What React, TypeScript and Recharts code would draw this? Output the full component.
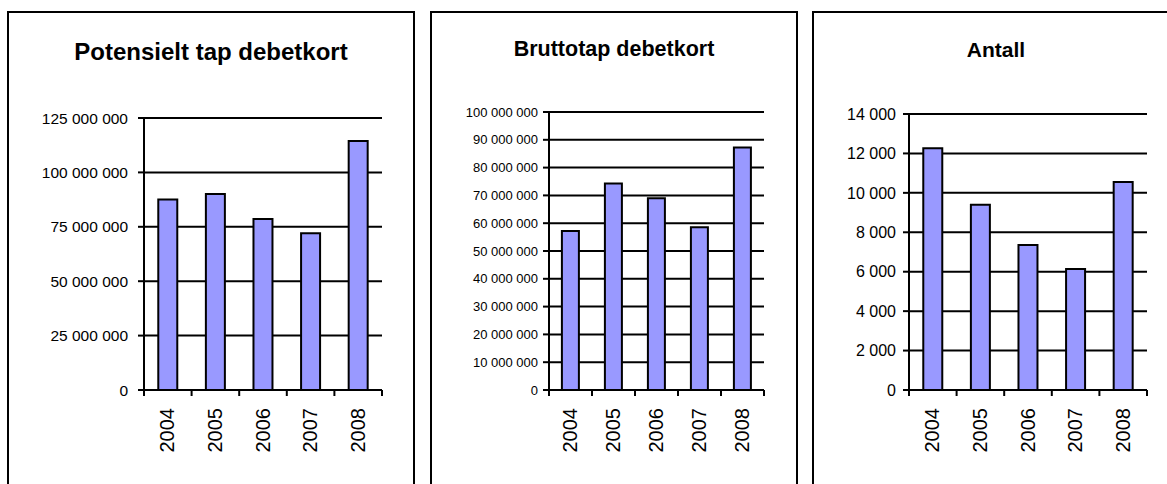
import React from "react";
import { BarChart, Bar, XAxis, YAxis, CartesianGrid } from "recharts";

const years = ["2004", "2005", "2006", "2007", "2008"];
const potensieltTap = [87600000, 90100000, 78600000, 72000000, 114400000];
const bruttotap = [57200000, 74300000, 69000000, 58500000, 87200000];
const antall = [12260, 9400, 7350, 6140, 10550];

const potensieltTicks = [0, 25000000, 50000000, 75000000, 100000000, 125000000];
const bruttoTicks = [0, 10000000, 20000000, 30000000, 40000000, 50000000, 60000000, 70000000, 80000000, 90000000, 100000000];
const antallTicks = [0, 2000, 4000, 6000, 8000, 10000, 12000, 14000];

const FONT = '"Liberation Sans", Arial, Helvetica, sans-serif';

const fmt = (v: number) => String(v).replace(/\B(?=(\d{3})+(?!\d))/g, " ");

// x ticks sit on the category edges, labels rotated in the middle
const YearTick = (props: any) => {
  const { x, y, payload, index, half } = props;
  const h = payload && payload.offset ? payload.offset : half;
  return (
    <g>
      <line x1={x - h} y1={y} x2={x - h} y2={y + 6} stroke="#000" strokeWidth={2} />
      {index === years.length - 1 && (
        <line x1={x + h} y1={y} x2={x + h} y2={y + 6} stroke="#000" strokeWidth={2} />
      )}
      <text
        x={x}
        y={y + 18}
        transform={`rotate(-90, ${x}, ${y + 18})`}
        textAnchor="end"
        dy="0.33em"
        fontSize={20}
        fontFamily={FONT}
        fill="#000"
      >
        {payload.value}
      </text>
    </g>
  );
};

type PanelProps = {
  title: string;
  titleSize: number;
  titleTop: number;
  values: number[];
  ticks: number[];
  yFont: number;
  yMargin: number;
  frameLeft: number;
  frameRight: number;
  plotLeft: number;
  plotRight: number;
  plotTop: number;
};

const Panel = (p: PanelProps) => {
  const data = years.map((y, i) => ({ year: y, value: p.values[i] }));
  const width = p.frameRight - p.frameLeft - 4;
  const height = 471;
  const ox = p.frameLeft + 2;
  const yAxisWidth = p.plotLeft - ox;
  const half = (p.plotRight - p.plotLeft) / years.length / 2;
  return (
    <div
      style={{
        position: "absolute",
        left: p.frameLeft,
        top: 11,
        width: p.frameRight - p.frameLeft,
        height: 600,
        border: "2px solid #000",
        boxSizing: "border-box",
      }}
    >
      <div
        style={{
          position: "absolute",
          left: 0,
          right: 0,
          top: p.titleTop,
          textAlign: "center",
          fontFamily: FONT,
          fontWeight: "bold",
          fontSize: p.titleSize,
          lineHeight: 1,
          color: "#000",
        }}
      >
        {p.title}
      </div>
      <div style={{ position: "absolute", left: 0, top: 0 }}>
        <BarChart
          width={width}
          height={height}
          data={data}
          barCategoryGap="30%"
          margin={{ top: p.plotTop - 13, right: width - (p.plotRight - ox), bottom: 14, left: 0 }}
        >
          <CartesianGrid horizontal vertical={false} stroke="#000" strokeWidth={2} />
          <XAxis
            dataKey="year"
            height={80}
            interval={0}
            tickSize={0}
            tickMargin={0}
            tickLine={false}
            axisLine={{ stroke: "#000", strokeWidth: 2 }}
            tick={(t: any) => <YearTick {...t} half={half} />}
          />
          <YAxis
            width={yAxisWidth}
            domain={[0, p.ticks[p.ticks.length - 1]]}
            ticks={p.ticks}
            interval={0}
            tickFormatter={fmt}
            tickSize={6}
            tickMargin={p.yMargin}
            tickLine={{ stroke: "#000", strokeWidth: 2 }}
            axisLine={{ stroke: "#000", strokeWidth: 2 }}
            tick={{ fill: "#000", fontSize: p.yFont, fontFamily: FONT }}
          />
          <Bar dataKey="value" fill="#9999FF" stroke="#000" strokeWidth={2} isAnimationActive={false} />
        </BarChart>
      </div>
    </div>
  );
};

export default function App() {
  return (
    <div
      style={{
        position: "absolute",
        left: 0,
        top: 0,
        width: 1167,
        height: 484,
        overflow: "hidden",
        background: "#fff",
      }}
    >
      <Panel
        title="Potensielt tap debetkort"
        titleSize={24}
        titleTop={27}
        values={potensieltTap}
        ticks={potensieltTicks}
        yFont={15.5}
        yMargin={10}
        frameLeft={7}
        frameRight={415}
        plotLeft={144}
        plotRight={382}
        plotTop={118}
      />
      <Panel
        title="Bruttotap debetkort"
        titleSize={21.5}
        titleTop={26}
        values={bruttotap}
        ticks={bruttoTicks}
        yFont={13}
        yMargin={5}
        frameLeft={430}
        frameRight={798}
        plotLeft={549}
        plotRight={764}
        plotTop={112}
      />
      <Panel
        title="Antall"
        titleSize={21}
        titleTop={26}
        values={antall}
        ticks={antallTicks}
        yFont={16}
        yMargin={7}
        frameLeft={812}
        frameRight={1180}
        plotLeft={909}
        plotRight={1147}
        plotTop={114}
      />
    </div>
  );
}
